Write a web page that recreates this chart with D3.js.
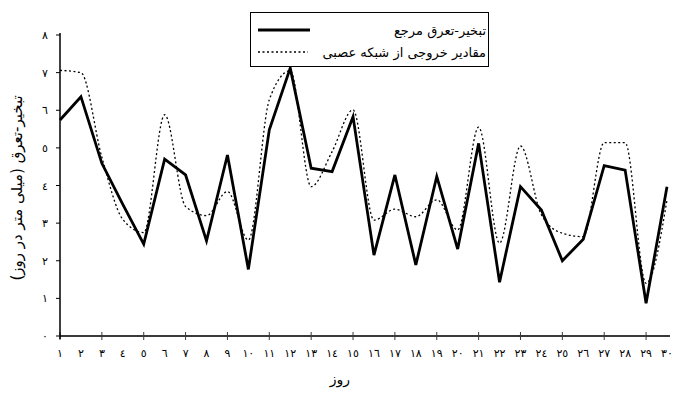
<!DOCTYPE html>
<html>
<head>
<meta charset="utf-8">
<script src="https://cdn.jsdelivr.net/npm/d3@7"></script>
<style>
  html, body { margin: 0; padding: 0; background: #fff; }
  svg { display: block; }
  text { font-family: "DejaVu Sans", "Noto Sans", sans-serif; fill: #000; }
</style>
</head>
<body>
<svg id="chart" width="675" height="394"></svg>
<script>
// Days of the record (1..30)
const days = d3.range(1, 31);

// Reference evapotranspiration (mm/day)
const referenceET = [
  5.74, 6.36, 4.59, 3.5, 2.44, 4.7, 4.28, 2.53, 4.81, 1.77,
  5.48, 7.12, 4.46, 4.37, 5.83, 2.15, 4.28, 1.89, 4.24, 2.31,
  5.12, 1.43, 3.97, 3.35, 2.0, 2.57, 4.53, 4.41, 0.87, 3.97
];

// Neural network output values (mm/day)
const networkET = [
  7.06, 7.0, 4.75, 3.1, 2.75, 5.88, 3.44, 3.2, 3.84, 2.55,
  6.28, 7.05, 3.97, 4.9, 6.01, 3.08, 3.37, 3.17, 3.62, 2.82,
  5.55, 2.47, 5.05, 3.22, 2.73, 2.64, 5.14, 5.14, 1.4, 3.62
];

const yTicks = d3.range(0, 9);
const xTickDays = d3.range(1, 30, 2);

const seriesNames = ["تبخیر-تعرق مرجع", "مقادیر خروجی از شبکه عصبی"];
const yTitle = "تبخیر-تعرق (میلی متر در روز)";
const xTitle = "روز";

const toArabicDigits = n => String(n).replace(/\d/g, d => String.fromCharCode(0x0660 + +d));

const svg = d3.select("#chart");

const x = d3.scalePoint().domain(days).range([60, 667]);
const y = d3.scaleLinear().domain([0, 8]).range([336, 35]);

// X axis: baseline with crossing ticks on odd days, labels on every day
const xAxisG = svg.append("g");
xAxisG.append("line")
  .attr("x1", 60).attr("x2", 670)
  .attr("y1", y(0)).attr("y2", y(0))
  .attr("stroke", "#3a3a3a").attr("stroke-width", 2);
xAxisG.selectAll("line.tick").data(xTickDays).join("line")
  .attr("class", "tick")
  .attr("x1", d => x(d)).attr("x2", d => x(d))
  .attr("y1", y(0) - 4).attr("y2", y(0) + 4)
  .attr("stroke", "#3a3a3a").attr("stroke-width", 1);
xAxisG.selectAll("text").data(days).join("text")
  .attr("x", d => x(d)).attr("y", 357)
  .attr("text-anchor", "middle")
  .style("font-size", "11px")
  .text(d => toArabicDigits(d));

// Y axis
const yAxisG = svg.append("g");
yAxisG.append("line")
  .attr("x1", 60).attr("x2", 60)
  .attr("y1", y(0) + 3).attr("y2", y(8) - 2)
  .attr("stroke", "#000").attr("stroke-width", 1.5);
yAxisG.selectAll("line.tick").data(yTicks).join("line")
  .attr("class", "tick")
  .attr("x1", 56).attr("x2", 60)
  .attr("y1", d => y(d)).attr("y2", d => y(d))
  .attr("stroke", "#000").attr("stroke-width", 1);
yAxisG.selectAll("text").data(yTicks).join("text")
  .attr("x", 45).attr("y", d => y(d) + 4)
  .attr("text-anchor", "middle")
  .style("font-size", "11px")
  .text(d => toArabicDigits(d));

// Axis titles
svg.append("text")
  .attr("transform", "translate(22,188) rotate(-90)")
  .attr("text-anchor", "middle")
  .attr("direction", "rtl")
  .style("font-size", "15px")
  .text(yTitle);
svg.append("text")
  .attr("x", 340).attr("y", 384)
  .attr("text-anchor", "middle")
  .style("font-size", "14px")
  .text(xTitle);

// Series lines
const solidLine = d3.line().x((d, i) => x(days[i])).y(d => y(d));
const smoothLine = d3.line().x((d, i) => x(days[i])).y(d => y(d)).curve(d3.curveMonotoneX);

svg.append("path")
  .datum(networkET)
  .attr("d", smoothLine)
  .attr("fill", "none")
  .attr("stroke", "#000")
  .attr("stroke-width", 1.3)
  .attr("stroke-dasharray", "2,2.5");

svg.append("path")
  .datum(referenceET)
  .attr("d", solidLine)
  .attr("fill", "none")
  .attr("stroke", "#000")
  .attr("stroke-width", 2.8)
  .attr("stroke-linejoin", "miter");

// Legend
const legend = svg.append("g");
legend.append("rect")
  .attr("x", 250.5).attr("y", 12.5)
  .attr("width", 238).attr("height", 54)
  .attr("fill", "#fff").attr("stroke", "#000").attr("stroke-width", 1);
legend.append("line")
  .attr("x1", 258).attr("x2", 310).attr("y1", 30).attr("y2", 30)
  .attr("stroke", "#000").attr("stroke-width", 2.8);
legend.append("line")
  .attr("x1", 258).attr("x2", 308).attr("y1", 52).attr("y2", 52)
  .attr("stroke", "#000").attr("stroke-width", 1.3)
  .attr("stroke-dasharray", "2,2.5");
legend.selectAll("text").data(seriesNames).join("text")
  .attr("x", 486).attr("y", (d, i) => 35 + i * 22)
  .attr("direction", "rtl")
  .attr("text-anchor", "start")
  .style("font-size", "13px")
  .text(d => d);
</script>
</body>
</html>
